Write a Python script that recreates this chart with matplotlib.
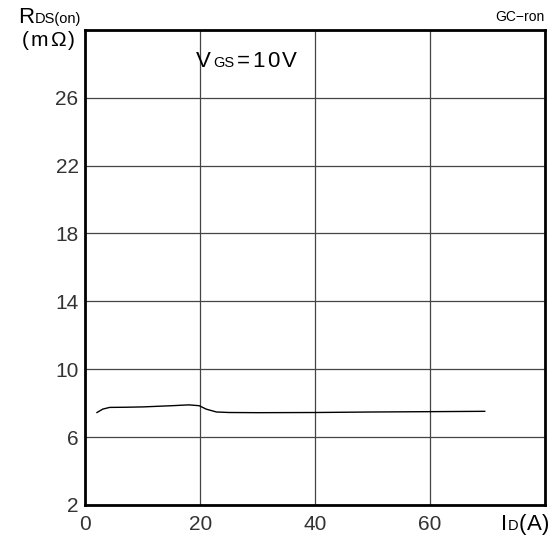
import matplotlib
matplotlib.use("Agg")
import matplotlib.pyplot as plt

plt.rcParams['font.family'] = ['Liberation Sans', 'DejaVu Sans']

# curve: ID (A) vs RDS(on) (mOhm), VGS = 10 V
i_d = [2, 3, 4.2, 7, 10, 15, 18, 19.8, 21, 22.8, 25, 30, 40, 50, 60, 69.5]
r_on = [7.45, 7.65, 7.75, 7.76, 7.78, 7.85, 7.9, 7.85, 7.65, 7.48, 7.45, 7.44, 7.45, 7.48, 7.5, 7.52]

x_ticks = [0, 20, 40, 60]
y_ticks = [2, 6, 10, 14, 18, 22, 26]

W, H = 557, 548
fig = plt.figure(figsize=(W / 100, H / 100), dpi=100)
ax = fig.add_axes([0.1535, 0.0785, 0.825, 0.867])

ax.plot(i_d, r_on, color="black", lw=1.0)

ax.set_xlim(0, 80)
ax.set_ylim(2, 30)
ax.set_xticks(x_ticks + [80])
ax.set_yticks(y_ticks + [30])
ax.set_xticklabels([str(v) for v in x_ticks] + [""])
ax.set_yticklabels([str(v) for v in y_ticks] + [""])
ax.grid(True, color="#444444", lw=0.9)
ax.tick_params(length=0, labelsize=15, colors="#333333")
ax.tick_params(axis="x", pad=7)
ax.tick_params(axis="y", pad=5)
for s in ax.spines.values():
    s.set_linewidth(2)
    s.set_color("black")

renderer = fig.canvas.get_renderer()


def run_text(x, y, parts, gap=1):
    # write pieces of text one after another, left to right, from pixel (x, y) top-left based
    for txt, size in parts:
        t = fig.text(x / W, 1 - y / H, txt, fontsize=size, va="baseline", ha="left")
        x += t.get_window_extent(renderer).width + gap


run_text(18, 23, [("R", 16), ("DS(on)", 10.5)])
run_text(22, 46, [("(", 15), ("m", 15), ("\u03a9", 15), (")", 15)], gap=2)
run_text(501, 530, [("I", 16), ("D", 10.5), ("(", 16), ("A", 16), (")", 16)], gap=0.5)
run_text(196, 67, [("V", 16), ("GS", 10.5), ("=", 16), ("1", 16), ("0", 16), ("V", 16)], gap=2.5)

fig.text(545 / W, 1 - 17 / H, "GC\u2212ron", fontsize=10, va="center", ha="right")

fig.savefig("out.png", dpi=100)
